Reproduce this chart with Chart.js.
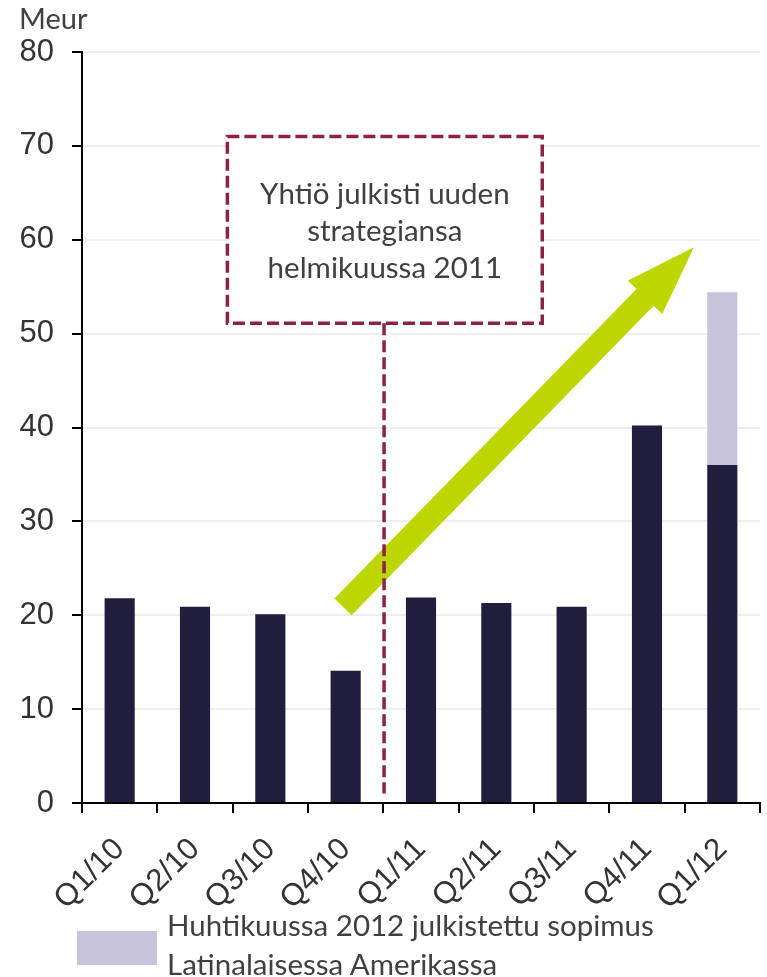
<!DOCTYPE html>
<html>
<head>
<meta charset="utf-8">
<script src="https://cdn.jsdelivr.net/npm/chart.js@4"></script>
<style>
  body { margin: 0; background: #fff; }
  #wrap { position: relative; width: 767px; height: 977px; }
  .txt { position: absolute; font-family: Lato, sans-serif; color: #404040; white-space: nowrap; }
  #unit { left: 19px; top: -1px; font-size: 29px; line-height: 38px; }
  #legend { left: 77px; top: 905px; }
  #legend .swatch { position: absolute; left: 0; top: 26px; width: 80px; height: 34px; }
  #legend .label { position: absolute; left: 90px; top: 0; font-size: 29.5px; line-height: 39px; }
</style>
</head>
<body>
<div id="wrap">
  <canvas id="chart"></canvas>
  <div id="unit" class="txt">Meur</div>
  <div id="legend" class="txt">
    <div class="swatch"></div>
    <div class="label">Huhtikuussa 2012 julkistettu sopimus<br>Latinalaisessa Amerikassa</div>
  </div>
</div>
<script>
const quarters = ['Q1/10', 'Q2/10', 'Q3/10', 'Q4/10', 'Q1/11', 'Q2/11', 'Q3/11', 'Q4/11', 'Q1/12'];
const baseValues = [21.8, 20.9, 20.1, 14.1, 21.9, 21.3, 20.9, 40.2, 36.0];
const latamValues = [null, null, null, null, null, null, null, null, 18.4];
const latamLabel = 'Huhtikuussa 2012 julkistettu sopimus Latinalaisessa Amerikassa';
const noteLines = ['Yhtiö julkisti uuden', 'strategiansa', 'helmikuussa 2011'];
const yMin = 0;
const yMax = 80;
const yStep = 10;

const DARK = '#211d3d';
const LIGHT = '#c6c3da';
const MAROON = '#8b2349';
const LIME = '#bed600';

document.querySelector('#legend .swatch').style.background = LIGHT;

// annotation placement, x in category index units, y in Meur
const noteBox = { x0: 1.43, x1: 5.61, y0: 51.1, y1: 71.0 };
const strategyLine = { x: 3.51, y0: 1.0 };
const trendArrow = { x0: 2.965, y0: 20.9, x1: 7.624, y1: 59.2 };

const annotations = {
  id: 'annotations',
  afterDatasetsDraw(chart) {
    const { ctx, scales: { x, y } } = chart;
    ctx.save();

    // note box
    const bx0 = x.getPixelForValue(noteBox.x0);
    const bx1 = x.getPixelForValue(noteBox.x1);
    const by0 = y.getPixelForValue(noteBox.y1);
    const by1 = y.getPixelForValue(noteBox.y0);
    ctx.fillStyle = '#fff';
    ctx.fillRect(bx0, by0, bx1 - bx0, by1 - by0);
    ctx.strokeStyle = MAROON;
    ctx.lineWidth = 3.5;
    ctx.setLineDash([12, 5]);
    ctx.strokeRect(bx0, by0, bx1 - bx0, by1 - by0);
    ctx.setLineDash([]);

    ctx.fillStyle = '#404040';
    ctx.font = '29.5px Lato, sans-serif';
    ctx.textAlign = 'center';
    ctx.textBaseline = 'alphabetic';
    const cx = (bx0 + bx1) / 2;
    noteLines.forEach((line, i) => {
      ctx.fillText(line, cx, by0 + 68 + i * 37);
    });

    // arrow
    const ax0 = x.getPixelForValue(trendArrow.x0);
    const ay0 = y.getPixelForValue(trendArrow.y0);
    const ax1 = x.getPixelForValue(trendArrow.x1);
    const ay1 = y.getPixelForValue(trendArrow.y1);
    const len = Math.hypot(ax1 - ax0, ay1 - ay0);
    const ux = (ax1 - ax0) / len, uy = (ay1 - ay0) / len;
    const px = -uy, py = ux;
    const shaftW = 12, headW = 24, headL = 70;
    const hx = ax1 - ux * headL, hy = ay1 - uy * headL;
    ctx.fillStyle = LIME;
    ctx.beginPath();
    ctx.moveTo(ax0 + px * shaftW, ay0 + py * shaftW);
    ctx.lineTo(hx + px * shaftW, hy + py * shaftW);
    ctx.lineTo(hx + px * headW, hy + py * headW);
    ctx.lineTo(ax1, ay1);
    ctx.lineTo(hx - px * headW, hy - py * headW);
    ctx.lineTo(hx - px * shaftW, hy - py * shaftW);
    ctx.lineTo(ax0 - px * shaftW, ay0 - py * shaftW);
    ctx.closePath();
    ctx.fill();

    // dashed line from the box down to the axis
    const lx = x.getPixelForValue(strategyLine.x);
    ctx.strokeStyle = MAROON;
    ctx.lineWidth = 3.5;
    ctx.setLineDash([12, 5]);
    ctx.beginPath();
    ctx.moveTo(lx, by1);
    ctx.lineTo(lx, y.getPixelForValue(strategyLine.y0));
    ctx.stroke();

    ctx.restore();
  },
};

new Chart(document.getElementById('chart'), {
  type: 'bar',
  data: {
    labels: quarters,
    datasets: [
      {
        label: 'Liikevaihto',
        data: baseValues,
        backgroundColor: DARK,
        barPercentage: 0.4,
        categoryPercentage: 1,
      },
      {
        label: latamLabel,
        data: latamValues,
        backgroundColor: LIGHT,
        barPercentage: 0.4,
        categoryPercentage: 1,
      },
    ],
  },
  options: {
    responsive: true,
    maintainAspectRatio: false,
    animation: false,
    layout: { padding: { top: 52, right: 7, left: 0, bottom: 0 } },
    plugins: {
      legend: { display: false },
      tooltip: { enabled: false },
    },
    scales: {
      x: {
        stacked: true,
        afterFit: (s) => { s.height = 174; },
        grid: {
          drawOnChartArea: false,
          drawTicks: true,
          tickLength: 10,
          tickColor: '#000',
          lineWidth: 2,
        },
        border: { display: true, color: '#000', width: 2 },
        ticks: {
          minRotation: 45,
          maxRotation: 45,
          autoSkip: false,
          padding: 18,
          color: '#333',
          font: { family: 'Liberation Sans', size: 31 },
        },
      },
      y: {
        stacked: true,
        min: yMin,
        max: yMax,
        afterFit: (s) => { s.width = 82; },
        grid: {
          color: '#eeeeee',
          lineWidth: 2,
          tickLength: 10,
          tickColor: '#000',
        },
        border: { display: true, color: '#000', width: 2 },
        ticks: {
          stepSize: yStep,
          padding: 18,
          color: '#333',
          font: { family: 'Liberation Sans', size: 31 },
        },
      },
    },
  },
  plugins: [annotations],
});
</script>
</body>
</html>
